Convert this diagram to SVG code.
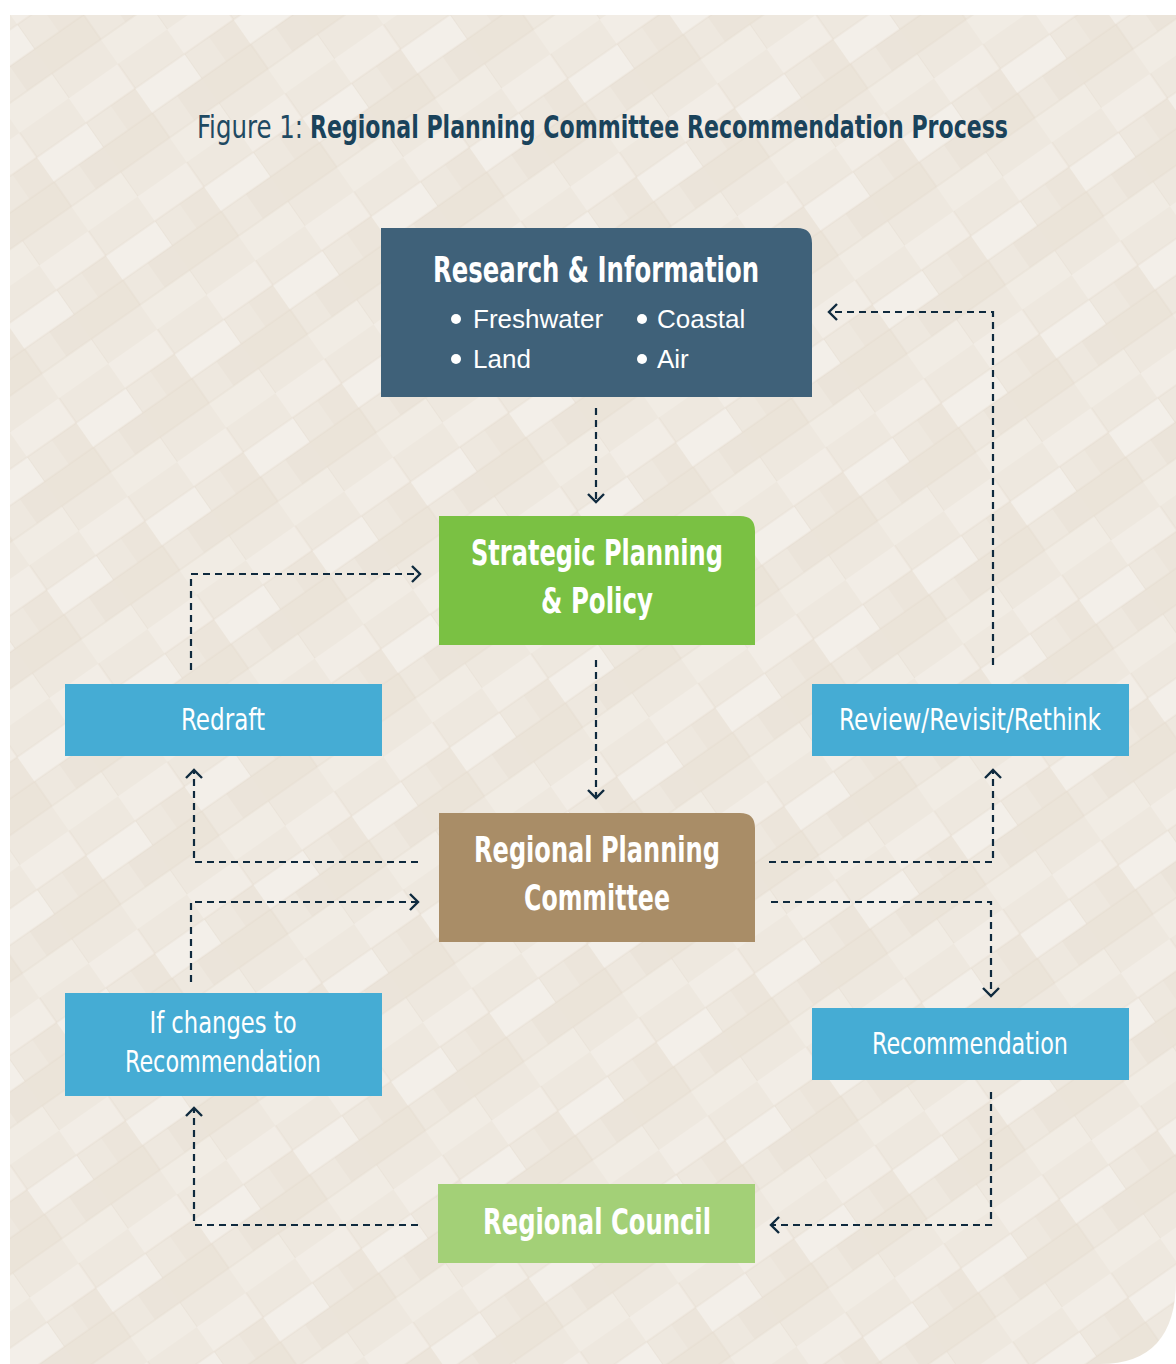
<svg xmlns="http://www.w3.org/2000/svg" width="1176" height="1364" viewBox="0 0 1176 1364">
<defs>
<style>
.cond{font-family:"Liberation Sans Narrow","DejaVu Sans Condensed","Liberation Sans",sans-serif;}
.hd{font-weight:bold;fill:#ffffff;font-size:36px;text-anchor:middle;}
.lb{fill:#ffffff;font-size:30px;text-anchor:middle;}
.bul{font-family:"Liberation Sans",Arial,sans-serif;fill:#ffffff;font-size:26px;}
.con{fill:none;stroke:#0f2a3e;stroke-width:2.2;stroke-dasharray:7 5;}
</style>
<marker id="ah" markerWidth="16" markerHeight="18" refX="10" refY="9" orient="auto" markerUnits="userSpaceOnUse">
<path d="M2,1 L10,9 L2,17" fill="none" stroke="#0f2a3e" stroke-width="2.4" stroke-dasharray="none"/>
</marker>
<pattern id="weave" width="120" height="120" patternUnits="userSpaceOnUse" patternTransform="rotate(-35)">
<rect width="120" height="120" fill="#eee8df"/>
<rect x="0" y="0" width="60" height="30" fill="#f2ede6"/>
<rect x="60" y="30" width="60" height="30" fill="#f3efe9"/>
<rect x="0" y="60" width="60" height="30" fill="#ebe4d9"/>
<rect x="60" y="90" width="60" height="30" fill="#f1ece4"/>
<rect x="30" y="30" width="30" height="30" fill="#ece5db"/>
<rect x="90" y="60" width="30" height="30" fill="#ebe4da"/>
<path d="M0,30 H120 M0,60 H120 M0,90 H120 M60,0 V30 M0,30 V60 M60,60 V90 M0,90 V120" stroke="#e2d8ca" stroke-width="1" opacity="0.6"/>
</pattern>
</defs>
<rect width="1176" height="1364" fill="#ffffff"/>
<path d="M10,15 H1176 V1280 Q1176,1364 1100,1364 H10 Z" fill="url(#weave)"/>

<g id="title">
<text x="197" y="138" class="cond" font-size="32" fill="#1f4a62" textLength="106" lengthAdjust="spacingAndGlyphs">Figure 1:</text>
<text transform="translate(310,138) scale(1,1.16)" x="0" y="0" class="cond" font-size="27.5" font-weight="bold" fill="#1a435b" textLength="698" lengthAdjust="spacingAndGlyphs">Regional Planning Committee Recommendation Process</text>
</g>

<g id="connectors">
<path class="con" d="M596,408 V502" marker-end="url(#ah)"/>
<path class="con" d="M596,660 V798" marker-end="url(#ah)"/>
<path class="con" d="M191,670 V574 H420" marker-end="url(#ah)"/>
<path class="con" d="M418,862 H194 V770" marker-end="url(#ah)"/>
<path class="con" d="M191,982 V902 H418" marker-end="url(#ah)"/>
<path class="con" d="M769,862 H993 V770" marker-end="url(#ah)"/>
<path class="con" d="M993,665 V312 H829" marker-end="url(#ah)"/>
<path class="con" d="M771,902 H991 V996" marker-end="url(#ah)"/>
<path class="con" d="M991,1092 V1225 H771" marker-end="url(#ah)"/>
<path class="con" d="M418,1225 H194 V1108" marker-end="url(#ah)"/>
</g>

<g id="research">
<path d="M381,228 H797 Q812,228 812,243 V397 H381 Z" fill="#3f6179"/>
<text x="596" y="282" class="cond hd" font-size="36" textLength="326" lengthAdjust="spacingAndGlyphs">Research &amp; Information</text>
<circle cx="456" cy="319" r="5" fill="#ffffff"/>
<text x="473" y="328" class="bul">Freshwater</text>
<circle cx="642" cy="319" r="5" fill="#ffffff"/>
<text x="657" y="328" class="bul">Coastal</text>
<circle cx="456" cy="359" r="5" fill="#ffffff"/>
<text x="473" y="368" class="bul">Land</text>
<circle cx="642" cy="359" r="5" fill="#ffffff"/>
<text x="657" y="368" class="bul">Air</text>
</g>

<g id="strategic">
<path d="M439,516 H740 Q755,516 755,531 V645 H439 Z" fill="#7ac143"/>
<text x="597" y="565" class="cond hd" textLength="252" lengthAdjust="spacingAndGlyphs">Strategic Planning</text>
<text x="597" y="613" class="cond hd" textLength="112" lengthAdjust="spacingAndGlyphs">&amp; Policy</text>
</g>

<g id="committee">
<path d="M439,813 H740 Q755,813 755,828 V942 H439 Z" fill="#a98d67"/>
<text x="597" y="862" class="cond hd" textLength="246" lengthAdjust="spacingAndGlyphs">Regional Planning</text>
<text x="597" y="910" class="cond hd" textLength="146" lengthAdjust="spacingAndGlyphs">Committee</text>
</g>

<g id="council">
<rect x="438" y="1184" width="317" height="79" fill="#a3d077"/>
<text x="597" y="1234" class="cond hd" textLength="228" lengthAdjust="spacingAndGlyphs">Regional Council</text>
</g>

<g id="redraft">
<rect x="65" y="684" width="317" height="72" fill="#45acd4"/>
<text x="223" y="730" class="cond lb" textLength="84" lengthAdjust="spacingAndGlyphs">Redraft</text>
</g>

<g id="review">
<rect x="812" y="684" width="317" height="72" fill="#45acd4"/>
<text x="970" y="730" class="cond lb" textLength="262" lengthAdjust="spacingAndGlyphs">Review/Revisit/Rethink</text>
</g>

<g id="ifchanges">
<rect x="65" y="993" width="317" height="103" fill="#45acd4"/>
<text x="223" y="1033" class="cond lb" textLength="147" lengthAdjust="spacingAndGlyphs">If changes to</text>
<text x="223" y="1072" class="cond lb" textLength="196" lengthAdjust="spacingAndGlyphs">Recommendation</text>
</g>

<g id="recommendation">
<rect x="812" y="1008" width="317" height="72" fill="#45acd4"/>
<text x="970" y="1054" class="cond lb" textLength="196" lengthAdjust="spacingAndGlyphs">Recommendation</text>
</g>
</svg>
